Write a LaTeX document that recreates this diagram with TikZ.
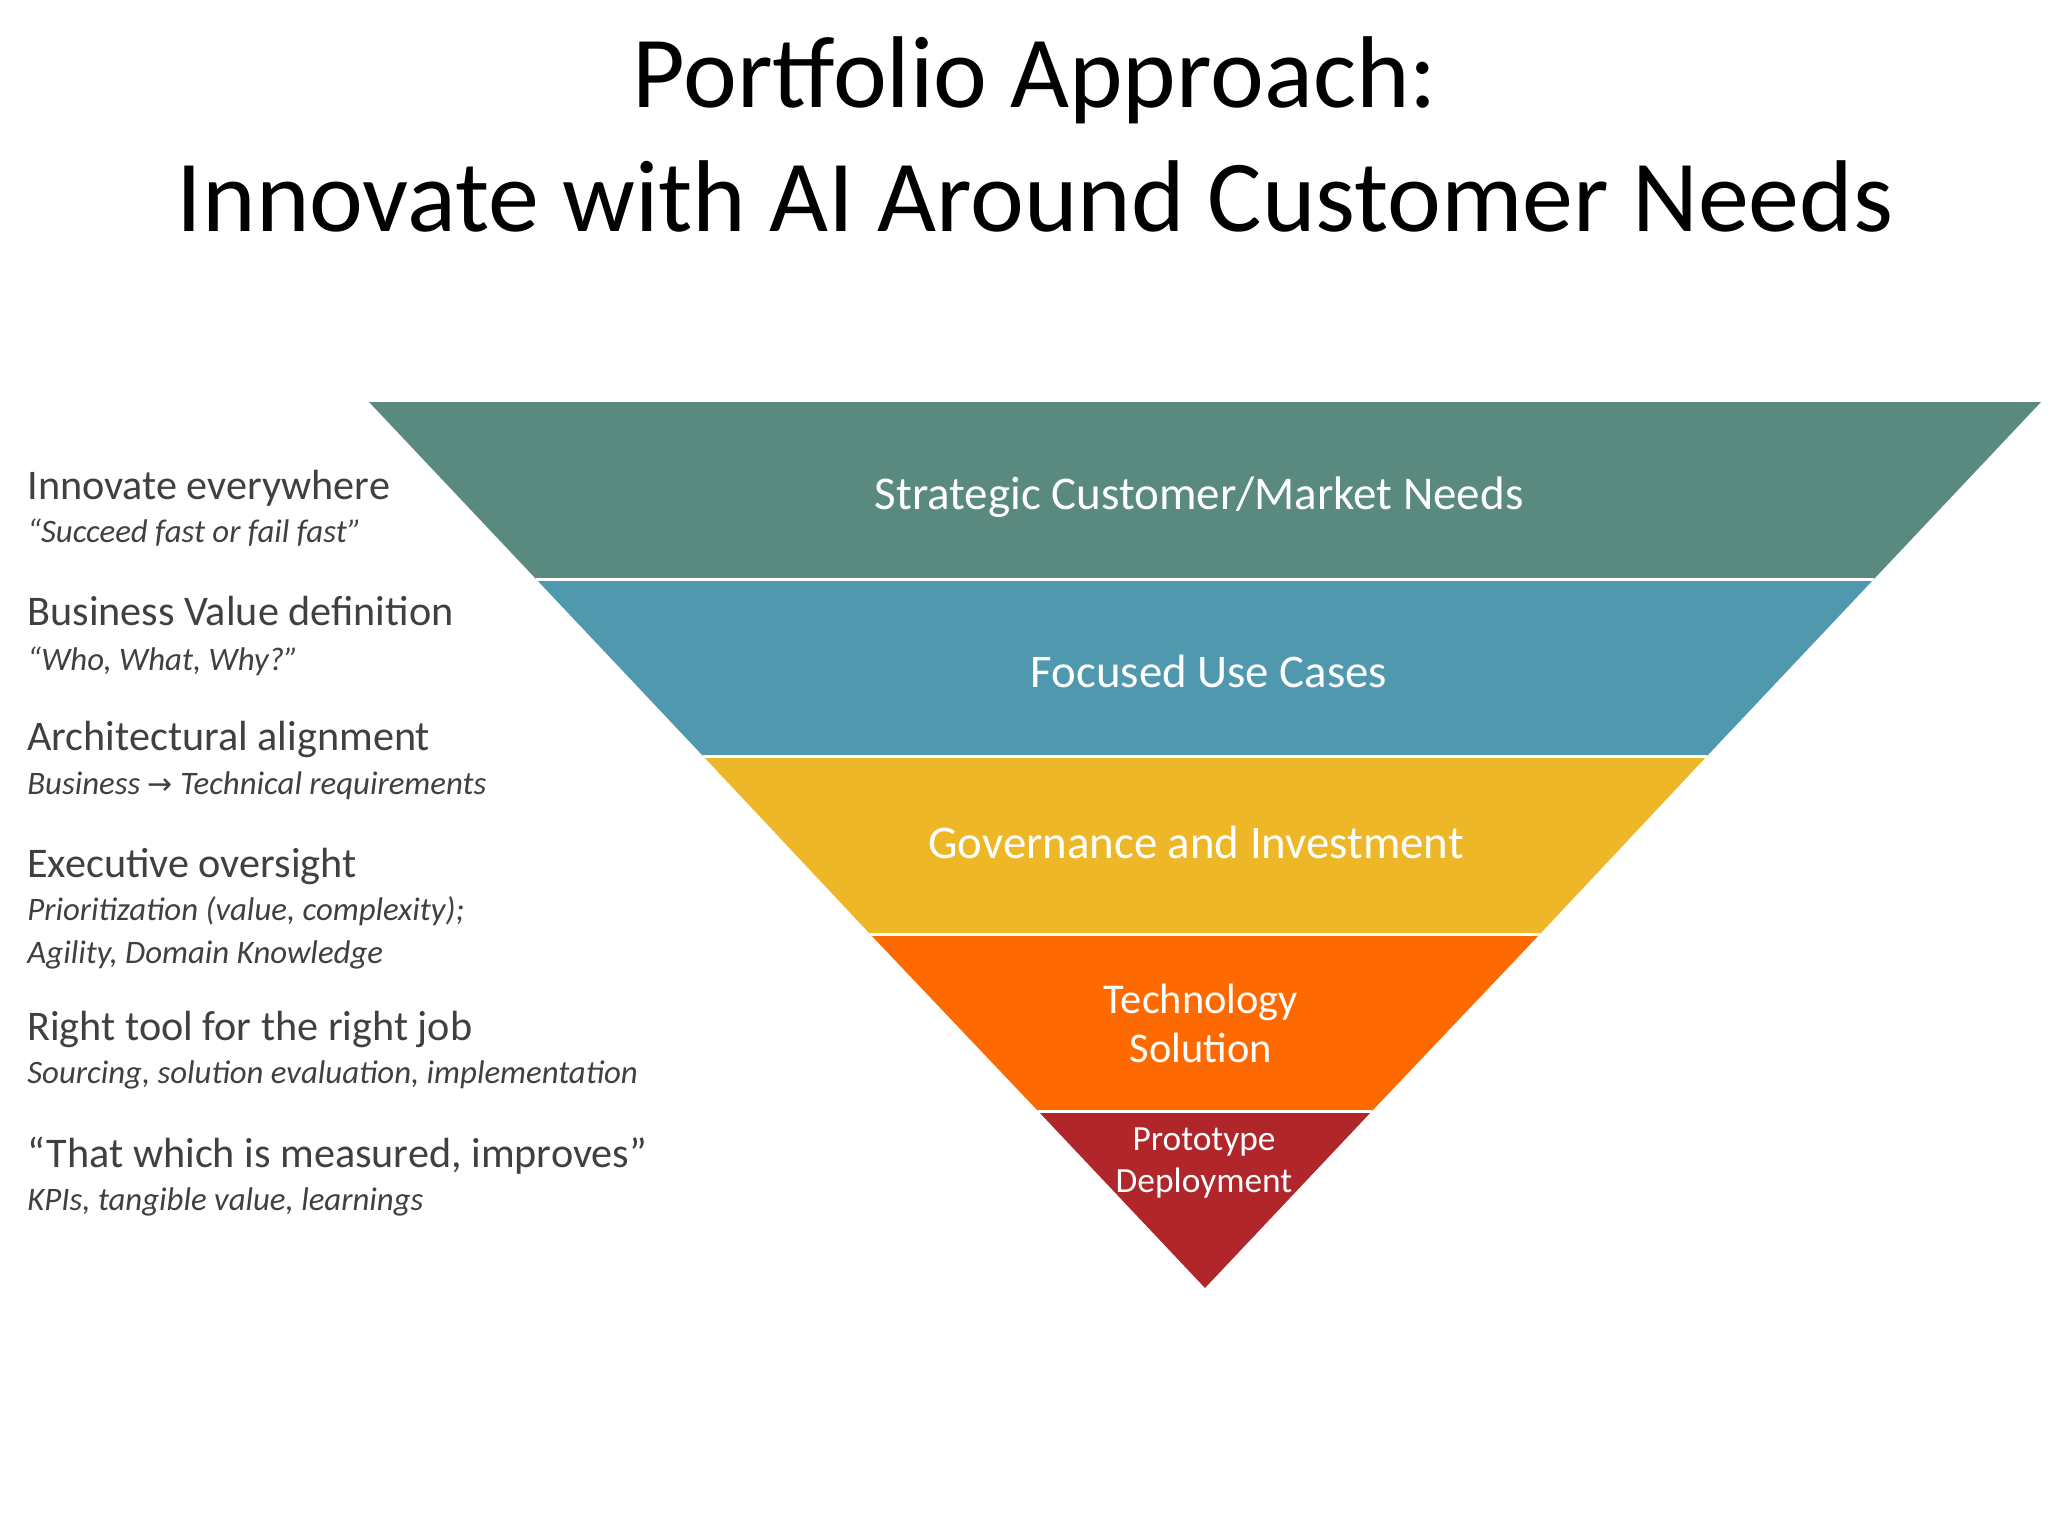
\documentclass[tikz,border=0pt]{standalone}
\usepackage{fontspec}
\setmainfont{Carlito}
\newfontfamily\arrowfont{DejaVu Sans}
\usepackage{xcolor}
\usepackage{tikz}
\usetikzlibrary{positioning}

\definecolor{bandteal}{HTML}{5A8A7F}
\definecolor{bandblue}{HTML}{4F98AE}
\definecolor{bandgold}{HTML}{EDB727}
\definecolor{bandorange}{HTML}{FF6A00}
\definecolor{bandred}{HTML}{B0262B}
\definecolor{textgrey}{HTML}{404040}

\begin{document}
\begin{tikzpicture}[x=0.5pt, y=-0.5pt,
  band/.style={draw=white, line width=1.5pt, line join=miter},
  bandtext/.style={text=white, align=center, inner sep=0pt},
  head/.style={anchor=base west, inner sep=0pt, text=textgrey, font=\fontsize{21.1}{25}\selectfont},
  sub/.style={anchor=base west, inner sep=0pt, text=textgrey, font=\fontsize{16.4}{21.5}\selectfont\itshape}]
  \useasboundingbox[fill=white] (0,0) rectangle (2048,1536);

  % title
  \node[anchor=base, inner sep=0pt, font=\fontsize{51}{61}\selectfont] (title1) at (1035,108)
    {Portfolio Approach:};
  \node[anchor=base, inner sep=0pt, font=\fontsize{51}{61}\selectfont] (title2) at (1035,231)
    {Innovate with AI Around Customer Needs};

  % funnel
  \fill[bandteal]   (369,402) -- (2041,402) -- (1874,579) -- (536,579) -- cycle;
  \fill[bandblue]   (536,579) -- (1874,579) -- (1707,756) -- (703,756) -- cycle;
  \fill[bandgold]   (703,756) -- (1707,756) -- (1540,934) -- (870,934) -- cycle;
  \fill[bandorange] (870,934) -- (1540,934) -- (1372,1111) -- (1038,1111) -- cycle;
  \fill[bandred]    (1038,1111) -- (1372,1111) -- (1205,1288) -- cycle;
  \draw[band] (536,579) -- (1874,579);
  \draw[band] (703,756) -- (1707,756);
  \draw[band] (870,934) -- (1540,934);
  \draw[band] (1038,1111) -- (1372,1111);

  \node[bandtext, font=\fontsize{23.5}{28}\selectfont] (strategic) at (1199,497)
    {Strategic Customer/Market Needs};
  \node[bandtext, font=\fontsize{23.4}{28}\selectfont] (usecases) at (1209,671)
    {Focused Use Cases};
  \node[bandtext, font=\fontsize{23.4}{28}\selectfont] (governance) at (1196,842)
    {Governance and Investment};
  \node[bandtext, font=\fontsize{21.2}{24.5}\selectfont] (technology) at (1201,1023)
    {Technology\\Solution};
  \node[bandtext, font=\fontsize{17.7}{21}\selectfont] (prototype) at (1204,1163)
    {Prototype\\Deployment};

  % left column
  \node[head] (innovate) at (27,499) {Innovate everywhere};
  \node[sub]  (innovatesub) at (27,542) {“Succeed fast or fail fast”};
  \node[head] (bizvalue) at (27,625) {Business Value definition};
  \node[sub]  (bizvaluesub) at (27,670) {“Who, What, Why?”};
  \node[head] (arch) at (27,750) {Architectural alignment};
  \node[sub]  (archsub) at (27,794) {Business {\upshape\arrowfont\fontsize{15}{18}\selectfont →} Technical requirements};
  \node[head] (exec) at (27,877) {Executive oversight};
  \node[sub]  (execsub) at (27,920) {Prioritization (value, complexity);};
  \node[sub]  (execsubb) at (27,963) {Agility, Domain Knowledge};
  \node[head] (righttool) at (27,1040) {Right tool for the right job};
  \node[sub]  (righttoolsub) at (27,1083) {Sourcing, solution evaluation, implementation};
  \node[head] (measured) at (27,1167) {“That which is measured, improves”};
  \node[sub]  (measuredsub) at (27,1210) {KPIs, tangible value, learnings};
\end{tikzpicture}
\end{document}
